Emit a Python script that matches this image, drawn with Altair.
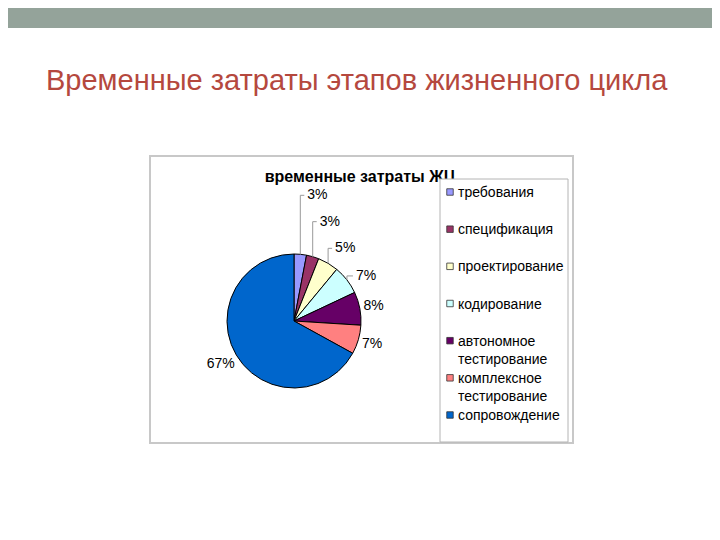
import math
import altair as alt
import pandas as pd

# ---- data -------------------------------------------------------------
categories = ["требования", "спецификация", "проектирование", "кодирование",
              "автономное тестирование", "комплексное тестирование", "сопровождение"]
legend_labels = ["требования", "спецификация", "проектирование", "кодирование",
                 "автономное\nтестирование", "комплексное\nтестирование", "сопровождение"]
values = [3, 3, 5, 7, 8, 7, 67]
colors = ["#9999FF", "#993366", "#FFFFCC", "#CCFFFF", "#660066", "#FF8080", "#0066CC"]

slide_title = "Временные затраты этапов жизненного цикла"
chart_title = "временные затраты ЖЦ"

# ---- layout (svg pixel space; page = svg + 8) ---------------------------
W, H = 704, 520
CX, CY, R = 286, 313, 67
FS_LABEL = 14
# vertical lift of the elbow leader labels (first four slices), horizontal tick length
LIFT = [59, 35, 15, 4]
TICK = [4, 4, 4, 6]

total = sum(values)
rows, segs = [], []
cum = 0
for i, (c, v) in enumerate(zip(categories, values)):
    mid = (cum + v / 2) / total * 2 * math.pi
    cum += v
    s, co = math.sin(mid), math.cos(mid)
    ex, ey = CX + R * s, CY - R * co
    txt = f"{round(v / total * 100)}%"
    if i < len(LIFT):
        ly = ey - LIFT[i]
        lx = ex + TICK[i] + 3
        segs.append({"x": ex, "y": ey, "x2": ex, "y2": ly})
        segs.append({"x": ex, "y": ly, "x2": ex + TICK[i], "y2": ly})
        rows.append({"cat": c, "txt": txt, "lx": lx, "ly": ly, "al": "left"})
    else:
        w = sum(0.889 if ch == "%" else 0.556 for ch in txt) * FS_LABEL
        h = 12
        rr = R + 3 + w / 2 * abs(s) + h / 2 * abs(co)
        rows.append({"cat": c, "txt": txt, "lx": CX + rr * s, "ly": CY - rr * co, "al": "center"})

df = pd.DataFrame({"cat": categories, "value": values, "idx": list(range(len(values))),
                   "legend": legend_labels})
lab = pd.DataFrame(rows)
seg = pd.DataFrame(segs)
one = pd.DataFrame({"k": [0]})

color_scale = alt.Scale(domain=categories, range=colors)

# ---- decorations --------------------------------------------------------
top_bar = alt.Chart(one).mark_rect(color="#94A39A").encode(
    x=alt.value(0), x2=alt.value(W), y=alt.value(0), y2=alt.value(20))

title_txt = alt.Chart(one).mark_text(
    font="Liberation Sans", fontSize=29, color="#B5483E", align="left", baseline="alphabetic"
).encode(x=alt.value(38), y=alt.value(82), text=alt.value(slide_title))

frame = alt.Chart(one).mark_rect(fill="white", stroke="#C8C8C8", strokeWidth=2).encode(
    x=alt.value(142), x2=alt.value(565), y=alt.value(148), y2=alt.value(435))

ctitle = alt.Chart(one).mark_text(
    font="Liberation Sans", fontSize=16, fontWeight="bold", color="black",
    align="center", baseline="alphabetic"
).encode(x=alt.value(352), y=alt.value(174), text=alt.value(chart_title))

legend_box = alt.Chart(one).mark_rect(fill="white", stroke="#B4B4B4", strokeWidth=1).encode(
    x=alt.value(432), x2=alt.value(560), y=alt.value(171), y2=alt.value(434))

# ---- pie ----------------------------------------------------------------
pie = alt.Chart(df).mark_arc(outerRadius=R, stroke="black", strokeWidth=1).encode(
    theta=alt.Theta("value:Q", stack=True),
    color=alt.Color("cat:N", scale=color_scale, legend=None),
    order=alt.Order("idx:Q"),
    x=alt.value(CX), y=alt.value(CY),
)

leaders = alt.Chart(seg).mark_rule(color="#999999", strokeWidth=1).encode(
    x=alt.X("x:Q", scale=None, axis=None), y=alt.Y("y:Q", scale=None, axis=None),
    x2="x2:Q", y2="y2:Q")

def label_layer(align):
    return alt.Chart(lab).transform_filter(alt.datum.al == align).mark_text(
        font="Liberation Sans", fontSize=FS_LABEL, color="black", align=align, baseline="middle"
    ).encode(x=alt.X("lx:Q", scale=None, axis=None), y=alt.Y("ly:Q", scale=None, axis=None),
             text="txt:N")

# ---- legend -------------------------------------------------------------
leg_y = alt.Y("cat:N", scale=alt.Scale(type="point", domain=categories, range=[184, 407], padding=0),
              axis=None)
leg_sq = alt.Chart(df).mark_square(size=42, stroke="#333333", strokeWidth=0.8, opacity=1).encode(
    x=alt.value(442), y=leg_y, color=alt.Color("cat:N", scale=color_scale, legend=None))
leg_tx = alt.Chart(df).mark_text(
    font="Liberation Sans", fontSize=14, color="black", align="left", baseline="alphabetic",
    dy=5, lineBreak="\n", lineHeight=18
).encode(x=alt.value(450), y=leg_y, text="legend:N")

chart = alt.layer(
    top_bar, title_txt, frame, ctitle, legend_box, pie, leaders,
    label_layer("left"), label_layer("center"), leg_sq, leg_tx
).resolve_scale(y="independent", x="independent").properties(
    width=W, height=H, padding=0, autosize="none"
).configure_view(stroke=None)

chart.save("out.html", embed_options={"renderer": "svg", "actions": False})
